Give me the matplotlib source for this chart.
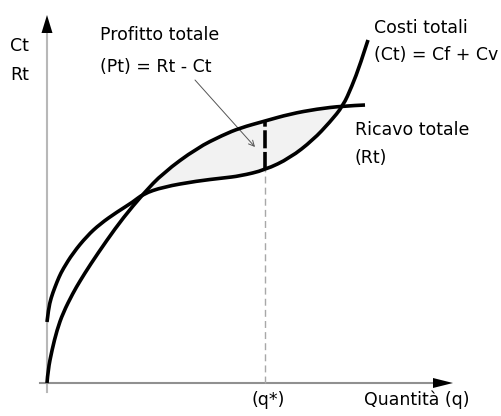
import matplotlib
matplotlib.use("Agg")
import matplotlib.pyplot as plt
from matplotlib.path import Path
from matplotlib.patches import PathPatch
import numpy as np

# ---- data (units: arbitrary) ----
cost_q = [0, 1.5, 4, 8, 12, 16, 26, 40, 53, 70, 86, 96, 116, 150, 176, 193,
          218, 243, 266, 283, 296, 305, 313, 321]
cost_y = [61, 74, 85, 96, 106, 114, 130, 147, 159, 171, 181, 189, 196, 202,
          205, 207, 213, 225, 243, 261, 277, 297, 318, 343]
rev_q = [0, 1, 5, 10, 16, 26, 33, 43, 60, 76, 96, 116, 150, 176, 193,
         218, 243, 270, 296, 318]
rev_y = [0, 13, 33, 53, 70, 90, 102, 118, 143, 165, 189, 210, 235, 248,
         255, 262, 269, 274, 277, 278]
q_star = 218
q_cross = [96, 296]
labels_y = ["Ct", "Rt"]
label_x = "Quantità (q)"
label_qstar = "(q*)"
label_cost = ["Costi totali", "(Ct) = Cf + Cv"]
label_rev = ["Ricavo totale", "(Rt)"]
label_profit = ["Profitto totale", "(Pt) = Rt - Ct"]

plt.rcParams['font.family'] = ['DejaVu Sans']
fig = plt.figure(figsize=(5.01, 4.16), dpi=100)
ax = fig.add_axes([0, 0, 1, 1])
ax.set_xlim(-47, 454)
ax.set_ylim(-33, 383)
ax.axis('off')

cq, cy = np.array(cost_q, float), np.array(cost_y, float)
rq, ry = np.array(rev_q, float), np.array(rev_y, float)


def smooth_path(xs, ys):
    """Quadratic B-spline path using the read points as control points."""
    pts = np.column_stack([xs, ys])
    verts = [pts[0]]
    codes = [Path.MOVETO]
    for i in range(1, len(pts) - 2):
        mid = (pts[i] + pts[i + 1]) / 2
        verts += [pts[i], mid]
        codes += [Path.CURVE3, Path.CURVE3]
    verts += [pts[-2], pts[-1]]
    codes += [Path.CURVE3, Path.CURVE3]
    return Path(verts, codes)


# profit area between crossings
i0c, i1c = cost_q.index(q_cross[0]), cost_q.index(q_cross[1])
i0r, i1r = rev_q.index(q_cross[0]), rev_q.index(q_cross[1])
poly_x = np.concatenate([rq[i0r:i1r + 1], cq[i0c:i1c + 1][::-1]])
poly_y = np.concatenate([ry[i0r:i1r + 1], cy[i0c:i1c + 1][::-1]])
ax.fill(poly_x, poly_y, color='#f2f2f2', zorder=1, lw=0)

# axes
ax.plot([0, 0], [-9, 352], color='#b8b8b8', lw=1.5, zorder=2)
ax.fill([-5.5, 5.5, 0], [350, 350, 368], color='black', zorder=3, lw=0)
ax.plot([-7, 388], [0, 0], color='#909090', lw=1.5, zorder=2)
ax.fill([386, 386, 406], [5, -5, 0], color='black', zorder=3, lw=0)

# curves
for xs, ys in ((cq, cy), (rq, ry)):
    ax.add_patch(PathPatch(smooth_path(xs, ys), fill=False, edgecolor='black',
                           lw=2.6, capstyle='butt', zorder=4))

# q* markers
k_c = cost_q.index(q_star)
k_r = rev_q.index(q_star)
ax.plot([q_star, q_star], [0, cost_y[k_c]], color='#a8a8a8', lw=1.0,
        linestyle=(0, (5, 3)), zorder=2)
ax.plot([q_star, q_star], [cost_y[k_c], rev_y[k_r]], color='black', lw=2.6,
        linestyle=(0, (5, 1.0)), zorder=5)

# texts
fs = 12.5
ax.text(-37, 337, labels_y[0], fontsize=fs, ha='left', va='center')
ax.text(-37, 308, labels_y[1], fontsize=fs, ha='left', va='center')
ax.text(53, 348, label_profit[0], fontsize=fs, ha='left', va='center')
ax.text(53, 316, label_profit[1], fontsize=fs, ha='left', va='center')
ax.text(327, 355, label_cost[0], fontsize=fs, ha='left', va='center')
ax.text(327, 328, label_cost[1], fontsize=fs, ha='left', va='center')
ax.text(308, 253, label_rev[0], fontsize=fs, ha='left', va='center')
ax.text(308, 225, label_rev[1], fontsize=fs, ha='left', va='center')
ax.text(q_star + 3, -17, label_qstar, fontsize=fs, ha='center', va='center')
ax.text(370, -17, label_x, fontsize=fs, ha='center', va='center')

ax.annotate('', xy=(208, 236), xytext=(148, 303),
            arrowprops=dict(arrowstyle='->,head_length=0.4,head_width=0.2',
                            color='#555555', lw=0.7, shrinkA=0, shrinkB=0))

fig.savefig('out.png', dpi=100)
